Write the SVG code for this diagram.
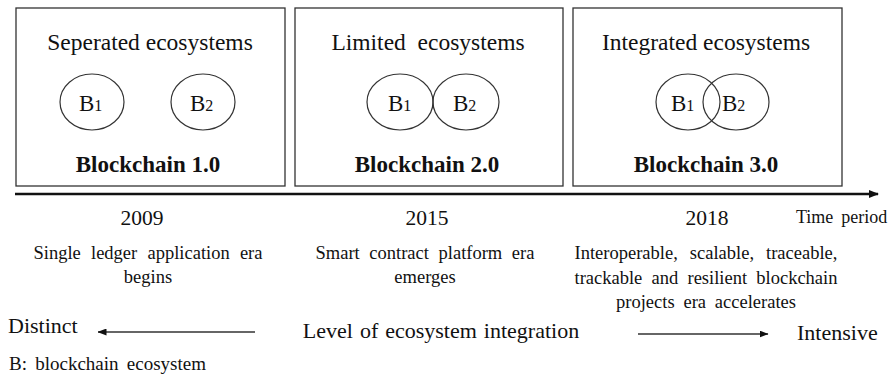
<svg xmlns="http://www.w3.org/2000/svg" width="893" height="376" viewBox="0 0 893 376">
<style>
text{font-family:"Liberation Serif","Times New Roman",serif;fill:#111}
.box{fill:#fff;stroke:#333;stroke-width:1.3}
.ell{fill:none;stroke:#333;stroke-width:1.2}
.title{font-size:23.5px;text-anchor:middle}
.bc{font-size:23px;font-weight:bold;text-anchor:middle}
.b{font-size:23px}
.sub{font-size:16px}
.yr{font-size:21.5px;text-anchor:middle}
.desc{font-size:18.5px;text-anchor:middle}
.big{font-size:22px}
.thin{stroke:#333;stroke-width:1.3;fill:none}
</style>
<defs>
<marker id="ah" markerWidth="10" markerHeight="8" refX="9" refY="4" orient="auto" markerUnits="userSpaceOnUse">
<path d="M0,0 L10,4 L0,8 z" fill="#111"/>
</marker>
<marker id="ahs" markerWidth="9" markerHeight="7" refX="8.5" refY="3.5" orient="auto" markerUnits="userSpaceOnUse">
<path d="M0,0 L9,3.5 L0,7 z" fill="#111"/>
</marker>
</defs>

<g id="era1">
<rect class="box" x="16" y="8" width="269" height="178"/>
<text class="title" x="150" y="50">Seperated ecosystems</text>
<ellipse class="ell" cx="92" cy="102" rx="32" ry="28"/>
<ellipse class="ell" cx="203" cy="102" rx="32" ry="28"/>
<text x="79" y="111"><tspan class="b">B</tspan><tspan class="sub">1</tspan></text>
<text x="190" y="111"><tspan class="b">B</tspan><tspan class="sub">2</tspan></text>
<text class="bc" x="148" y="172">Blockchain 1.0</text>
</g>

<g id="era2">
<rect class="box" x="295" y="8" width="268" height="178"/>
<text class="title" x="428" y="50" xml:space="preserve">Limited  ecosystems</text>
<ellipse class="ell" cx="400" cy="102" rx="33" ry="28"/>
<ellipse class="ell" cx="466" cy="102" rx="33" ry="28"/>
<text x="388" y="111"><tspan class="b">B</tspan><tspan class="sub">1</tspan></text>
<text x="453" y="111"><tspan class="b">B</tspan><tspan class="sub">2</tspan></text>
<text class="bc" x="427" y="172">Blockchain 2.0</text>
</g>

<g id="era3">
<rect class="box" x="573" y="8" width="269" height="178"/>
<text class="title" x="706" y="50">Integrated ecosystems</text>
<ellipse class="ell" cx="688" cy="102" rx="32" ry="28"/>
<ellipse class="ell" cx="736" cy="102" rx="33" ry="28"/>
<text x="671" y="111"><tspan class="b">B</tspan><tspan class="sub">1</tspan></text>
<text x="722" y="111"><tspan class="b">B</tspan><tspan class="sub">2</tspan></text>
<text class="bc" x="706" y="172">Blockchain 3.0</text>
</g>

<g id="connectors">
<line x1="15" y1="194" x2="878" y2="194" stroke="#111" stroke-width="2.6" marker-end="url(#ah)"/>
<line class="thin" x1="255" y1="332" x2="98" y2="332" marker-end="url(#ahs)"/>
<line class="thin" x1="638" y1="334" x2="768" y2="334" marker-end="url(#ahs)"/>
</g>

<g id="timeline-labels">
<text class="yr" x="142" y="225">2009</text>
<text class="yr" x="427" y="225">2015</text>
<text class="yr" x="707" y="225">2018</text>
<text x="796" y="223" font-size="18" word-spacing="3.5">Time period</text>
<text class="desc" x="148" y="259" word-spacing="5.6">Single ledger application era</text>
<text class="desc" x="148" y="283">begins</text>
<text class="desc" x="425" y="259" word-spacing="5">Smart contract platform era</text>
<text class="desc" x="425" y="283">emerges</text>
<text class="desc" x="706" y="259" word-spacing="7.4">Interoperable, scalable, traceable,</text>
<text class="desc" x="706" y="284" word-spacing="4.6">trackable and resilient blockchain</text>
<text class="desc" x="706" y="308" word-spacing="4.2">projects era accelerates</text>
</g>

<g id="integration">
<text class="big" x="8" y="333">Distinct</text>
<text class="big" x="441" y="338" text-anchor="middle" word-spacing="1.5">Level of ecosystem integration</text>
<text class="big" x="797" y="340">Intensive</text>
<text x="9" y="370" font-size="19" word-spacing="3.5">B: blockchain ecosystem</text>
</g>
</svg>
